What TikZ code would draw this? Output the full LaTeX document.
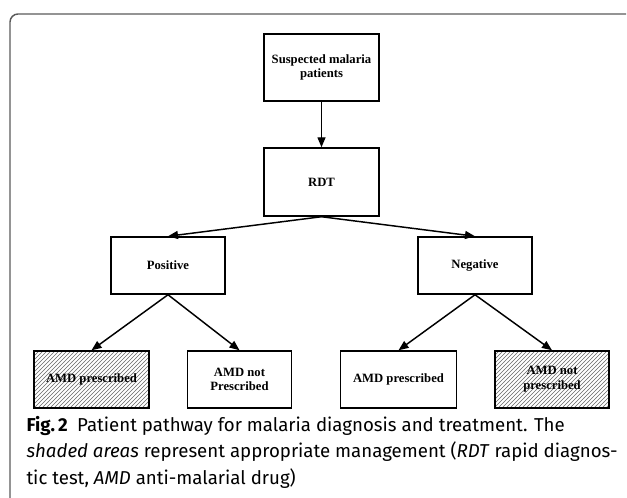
\documentclass[tikz,border=0pt]{standalone}
\usepackage{fontspec}
\setmainfont{Liberation Serif}
\newfontfamily\capfont{Fira Sans}
\usetikzlibrary{arrows.meta,patterns}

\tikzset{every picture/.style={line width=0.75pt}}
\tikzset{
	flowbox/.style={draw, line width=1.1pt, align=center, inner sep=2pt, font=\fontsize{9.5}{11}\selectfont\bfseries},
	hatched/.style={pattern=north east lines, pattern color=black!60},
	flowarrow/.style={-{Triangle[length=7.5pt,width=6pt]}, line width=1.1pt},
	captext/.style={anchor=base west, inner sep=0pt, font=\capfont\fontsize{14}{19.5}\selectfont}
}

\begin{document}
\begin{tikzpicture}[x=0.75pt,y=0.75pt,yscale=-1,xscale=1]
	\useasboundingbox (0,0) rectangle (627,498);

	%Frame
	\draw [color={rgb, 255:red, 90; green, 90; blue, 90 }, line width=1.1pt, rounded corners=6pt] (10,498) -- (10,14) -- (626,14) ;

	% Flow boxes
	\node [flowbox, minimum width=86.25pt, minimum height=50.25pt] (suspect) at (321.5,67.5) {Suspected malaria\\patients};
	\node [flowbox, minimum width=86.25pt, minimum height=51pt] (rdt) at (321.5,182) {RDT};
	\node [flowbox, minimum width=85.5pt, minimum height=42.75pt] (pos) at (168,265.5) {Positive};
	\node [flowbox, minimum width=85.5pt, minimum height=42.75pt] (neg) at (475,265.5) {Negative};
	\node [flowbox, hatched, minimum width=86.25pt, minimum height=42.75pt] (posamd) at (91.5,379.5) {AMD prescribed};
	\node [flowbox, minimum width=78pt, minimum height=42.75pt] (posnoamd) at (239.5,379.5) {AMD not\\Prescribed};
	\node [flowbox, minimum width=87pt, minimum height=42.75pt] (negamd) at (398.5,379.5) {AMD prescribed};
	\node [flowbox, hatched, minimum width=85.5pt, minimum height=42.75pt] (negnoamd) at (552,379.5) {AMD not\\prescribed};

	% Arrows
	\draw [flowarrow] (suspect) -- (rdt) ;
	\draw [flowarrow] (rdt.south) -- (pos.north) ;
	\draw [flowarrow] (rdt.south) -- (neg.north) ;
	\draw [flowarrow] (pos.south) -- (posamd.north) ;
	\draw [flowarrow] (pos.south) -- (posnoamd.north) ;
	\draw [flowarrow] (neg.south) -- (negamd.north) ;
	\draw [flowarrow] (neg.south) -- (negnoamd.north) ;

	% Caption
	\node [captext] (cap1) at (26,431) {\textbf{Fig.\,2}\enspace Patient pathway for malaria diagnosis and treatment. The};
	\node [captext] (cap2) at (26,457.5) {\textit{shaded areas} represent appropriate management (\textit{RDT} rapid diagnos-};
	\node [captext] (cap3) at (26,484) {tic test, \textit{AMD} anti-malarial drug)};

\end{tikzpicture}
\end{document}
